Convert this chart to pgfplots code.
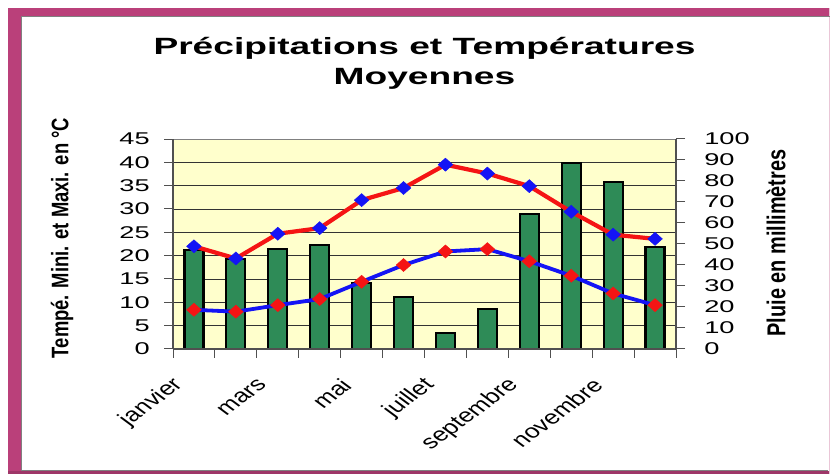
\documentclass[border=0pt]{standalone}
\usepackage{pgfplots}
\pgfplotsset{compat=1.18}
\usepackage{pgfplotstable}
\usepackage{fontspec}
\setmainfont{Liberation Sans}
\definecolor{frame}{RGB}{186,64,122}
\definecolor{bg}{RGB}{255,255,204}
\definecolor{bargreen}{RGB}{46,139,87}
\definecolor{lred}{RGB}{245,20,20}
\definecolor{lblue}{RGB}{20,20,245}
\definecolor{axgray}{RGB}{80,80,80}

\pgfplotstableread{
m tmax tmin rain
0 22.0 8.4 47.3
1 19.4 8.0 43.0
2 24.7 9.4 47.6
3 25.9 10.7 49.4
4 31.9 14.4 31.5
5 34.5 18.0 24.6
6 39.5 20.9 7.5
7 37.6 21.4 19.2
8 34.9 18.8 64.1
9 29.4 15.7 88.6
10 24.5 11.9 79.4
11 23.6 9.4 48.6
}\datatab

\begin{document}
\begin{tikzpicture}[x=1pt,y=1pt]
\path[use as bounding box] (0,0) rectangle (830,474);
\fill[white] (0,0) rectangle (830,474);
\fill[frame] (8,0) rectangle (21,466);
\fill[frame] (8,458) rectangle (830,466);
\fill[frame!85!black] (8,0) rectangle (830,3);
\fill[frame!30] (828.5,0) rectangle (830,466);
\draw[gray, line width=0.6pt] (21.3,3.3) -- (21.3,457.7) -- (830,457.7);
\draw[gray, line width=0.6pt] (21.3,3.3) -- (828,3.3);

\pgfplotsset{
  base/.style={
    scale only axis, width=503pt, height=210pt,
    at={(173pt,125pt)}, anchor=south west,
    xmin=-0.5, xmax=11.5,
    /pgf/number format/assume math mode=true,
    tick label style={font=\fontsize{17}{17}\selectfont},
    major tick length=9pt,
    tick align=outside,
    tick style={axgray, line width=1pt},
  }
}
\begin{axis}[base, ymin=0, ymax=45, ytick={0,5,...,45}, xtick=\empty,
  axis background/.style={fill=bg},
  ymajorgrids, grid style={black!80, line width=0.9pt},
  axis line style={gray, line width=0.8pt},
  ytick pos=left,
  yticklabel style={anchor=east, inner sep=0pt, xshift=-14pt, xscale=1.6},
  title={Précipitations et Températures\\Moyennes},
  every axis title/.style={at={(axis description cs:0.5,1.36)}, anchor=center, align=center, xscale=1.58, font=\bfseries\fontsize{23.5}{30}\selectfont, inner sep=0pt},
  ylabel={Tempé. Mini. et Maxi. en °C},
  ylabel style={at={(axis description cs:-0.2207,0.5286)}, anchor=center, yscale=1.3, font=\bfseries\fontsize{18.4}{18.4}\selectfont, inner sep=0pt},
]
\end{axis}
\begin{axis}[base, ymin=0, ymax=100, ytick={0,10,...,100},
  axis y line*=right, axis x line*=bottom,
  axis line style={axgray, line width=1.8pt},
  xtick={-0.5,0.5,...,11.5}, xticklabels={},
  yticklabel style={anchor=west, inner sep=0pt, xshift=19pt, xscale=1.6},
  ylabel={Pluie en millimètres},
  ylabel style={at={(axis description cs:1.1988,0.5048)}, anchor=center, yscale=1.3, font=\bfseries\fontsize{19.9}{19.9}\selectfont, inner sep=0pt},
]
\addplot[ybar, bar width=19pt, fill=bargreen, draw=black, line width=2.2pt] table[x=m,y=rain]{\datatab};
\end{axis}
\begin{axis}[base, ymin=0, ymax=45, axis y line*=left, axis x line*=bottom,
  axis line style={axgray, line width=1.8pt},
  ytick=\empty, xtick={0,2,...,10},
  xticklabels={janvier,mars,mai,juillet,septembre,novembre},
  major tick length=0pt,
  xticklabel style={anchor=east, inner sep=0pt, xshift=-15pt, yshift=-33pt, xscale=1.35, rotate=45, font=\fontsize{19.5}{19.5}\selectfont},
]
\addplot[lred, line width=4.2pt, mark=diamond*, mark size=6.5pt, mark options={lblue, xscale=1.5, line width=0.5pt}] table[x=m,y=tmax]{\datatab};
\addplot[lblue, line width=3.8pt, mark=diamond*, mark size=6.5pt, mark options={lred, xscale=1.5, line width=0.5pt}] table[x=m,y=tmin]{\datatab};
\end{axis}
\end{tikzpicture}
\end{document}
